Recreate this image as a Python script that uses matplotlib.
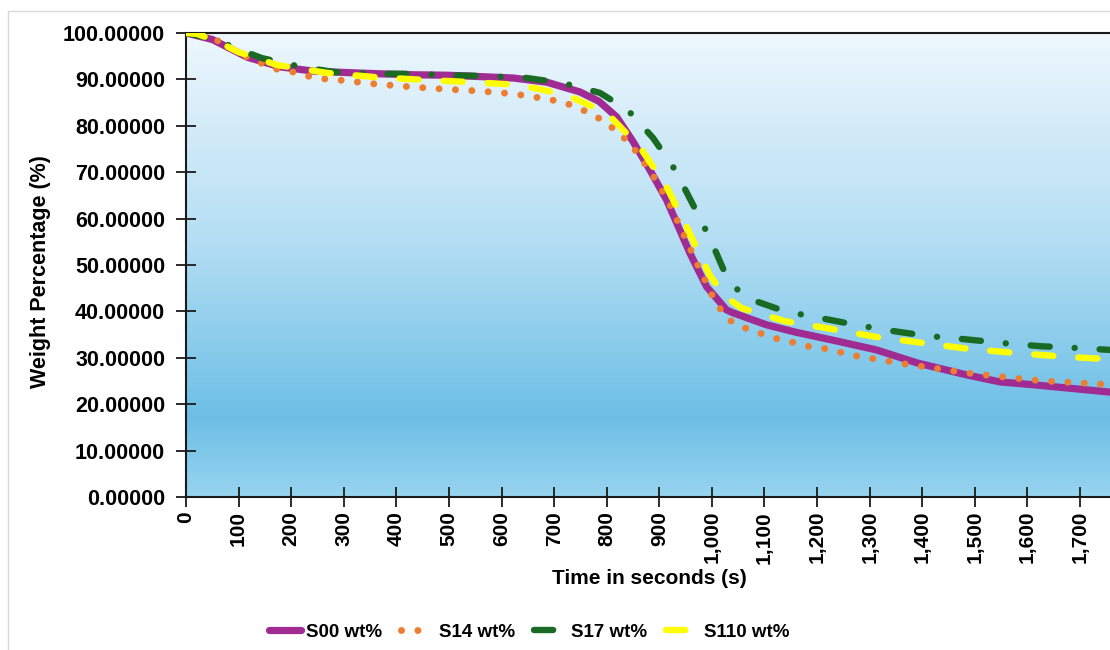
import numpy as np
import matplotlib
matplotlib.use('Agg')
import matplotlib.pyplot as plt
from matplotlib.colors import LinearSegmentedColormap
from matplotlib.patches import Rectangle
from matplotlib.ticker import FuncFormatter, MultipleLocator

# data
t_s00 = [0, 50, 116, 179, 241, 300, 369, 430, 496, 560, 622, 686, 749, 785, 819, 850,
         882, 914, 958, 990, 1028, 1040, 1104, 1160, 1230, 1313, 1390, 1485, 1548,
         1610, 1675, 1757]
s00 = [100, 98.6, 94.8, 92.7, 91.8, 91.5, 91.2, 91.0, 90.9, 90.6, 90.3, 89.4, 87.3,
       85.3, 81.9, 76.6, 70.5, 64.0, 52.6, 45.3, 40.3, 39.7, 37.1, 35.5, 33.8, 31.7,
       28.9, 26.3, 24.8, 24.2, 23.5, 22.6]

t_s14 = [0, 30, 61, 87, 116, 143, 173, 203, 232, 264, 296, 361, 426, 491, 557, 621,
         652, 684, 717, 743, 770, 798, 844, 884, 917, 945, 973, 1002, 1019, 1040, 1068,
         1097, 1127, 1159, 1190, 1220, 1251, 1283, 1313, 1344, 1376, 1409, 1439, 1473,
         1504, 1568, 1631, 1698, 1757]
s14 = [100, 99.5, 98.3, 96.6, 94.8, 93.5, 92.2, 91.6, 90.7, 90.1, 89.8, 89.0, 88.4,
       87.9, 87.5, 86.9, 86.4, 85.8, 85.1, 84.0, 82.6, 80.8, 76.3, 70.0, 63.8, 56.9,
       50.0, 43.1, 40.0, 37.5, 36.2, 35.1, 34.0, 33.2, 32.3, 31.9, 31.0, 30.2, 29.7,
       29.1, 28.5, 28.0, 27.5, 26.9, 26.5, 25.7, 25.0, 24.6, 24.2]

t_s17 = [0, 50, 100, 144, 211, 280, 354, 426, 500, 574, 648, 717, 787, 840, 888, 930,
         964, 996, 1026, 1050, 1076, 1139, 1205, 1273, 1342, 1411, 1481, 1551, 1624,
         1696, 1757]
s17 = [100, 98.8, 96.5, 94.6, 92.9, 91.6, 91.2, 91.2, 90.9, 90.7, 90.3, 89.2, 87.1,
       83.4, 77.4, 70.5, 63.0, 55.8, 48.0, 44.5, 42.5, 40.0, 38.6, 37.1, 35.8, 34.7,
       34.0, 33.2, 32.5, 32.1, 31.7]

t_s110 = [0, 21, 60, 99, 173, 268, 359, 451, 544, 635, 724, 800, 863, 914, 955, 996,
          1025, 1057, 1139, 1228, 1313, 1401, 1490, 1582, 1675, 1757]
s110 = [100, 99.8, 98.2, 95.9, 93.1, 91.4, 90.5, 89.9, 89.4, 88.8, 86.6, 82.8, 75.4,
        66.8, 57.5, 47.8, 43.2, 40.7, 37.9, 36.2, 34.5, 33.2, 31.9, 31.0, 30.2, 29.7]

labels = ['S00 wt%', 'S14 wt%', 'S17 wt%', 'S110 wt%']

font = ['Liberation Sans', 'DejaVu Sans']

fig = plt.figure(figsize=(11.1, 6.5), dpi=100)
ax = fig.add_axes([186 / 1110, 1 - 497 / 650, 1 - 186 / 1110, (497 - 33) / 650])

# gradient fill of the plot area
cmap = LinearSegmentedColormap.from_list(
    'bg', [(0, '#eef7fd'), (0.45, '#b3def3'), (0.83, '#6dbfe6'), (1.0, '#97d4ef')])
grad = np.linspace(0, 1, 256).reshape(-1, 1)
ax.imshow(grad, cmap=cmap, extent=[0, 1, 0, 1], transform=ax.transAxes,
          aspect='auto', zorder=0, origin='upper')

ax.plot(t_s00, s00, color='#a02b93', lw=5.2, solid_capstyle='round',
        solid_joinstyle='round', label=labels[0], zorder=2)
ax.plot(t_s14, s14, color='#ed7d31', lw=5.0, linestyle=(0, (0.01, 2.35)),
        dash_capstyle='round', label=labels[1], zorder=3)
ax.plot(t_s17, s17, color='#196b24', lw=4.6, linestyle=(0, (3, 3.9, 0.01, 3.9)),
        dash_capstyle='round', label=labels[2], zorder=4)
ax.plot(t_s110, s110, color='#ffff00', lw=4.6, linestyle=(0, (3, 3.9)),
        dash_capstyle='round', label=labels[3], zorder=5)

ax.set_xlim(0, 1757)
ax.set_ylim(0, 100)
ax.xaxis.set_major_locator(MultipleLocator(100))
ax.yaxis.set_major_locator(MultipleLocator(10))
ax.xaxis.set_major_formatter(FuncFormatter(lambda v, p: f'{v:,.0f}'))
ax.yaxis.set_major_formatter(FuncFormatter(lambda v, p: f'{v:.5f}'))

ax.tick_params(axis='both', direction='inout', length=14, width=1.3, color='#1a1a1a')
ax.tick_params(axis='y', pad=8)
ax.tick_params(axis='x', pad=3)
for lab in ax.get_yticklabels():
    lab.set_fontfamily(font)
    lab.set_fontweight('bold')
    lab.set_fontsize(15.5)
for lab in ax.get_xticklabels():
    lab.set_fontfamily(font)
    lab.set_fontweight('bold')
    lab.set_fontsize(15)
    lab.set_rotation(90)

for side in ['left', 'bottom', 'top']:
    ax.spines[side].set_color('#1a1a1a')
    ax.spines[side].set_linewidth(1.5)
ax.spines['right'].set_visible(False)

ax.set_xlabel('Time in seconds (s)', fontfamily=font, fontweight='bold', fontsize=15)
ax.xaxis.set_label_coords(0.502, -0.155)
ax.set_ylabel('Weight Percentage (%)', fontfamily=font, fontweight='bold', fontsize=15.5)
ax.yaxis.set_label_coords(-0.146, 0.485)

leg = fig.legend(loc='center', bbox_to_anchor=(529 / 1110, 1 - 632 / 650), ncol=4,
                 frameon=False, prop={'family': font, 'weight': 'bold', 'size': 13.5},
                 handlelength=1.7, columnspacing=1.0, handletextpad=0.3)

fig.patches.append(Rectangle((8 / 1110, -0.1), 1.2, 1.1 - 11 / 650,
                             transform=fig.transFigure, fill=False,
                             edgecolor='#d9d9d9', lw=1.0))

fig.savefig('out.png', dpi=100)
